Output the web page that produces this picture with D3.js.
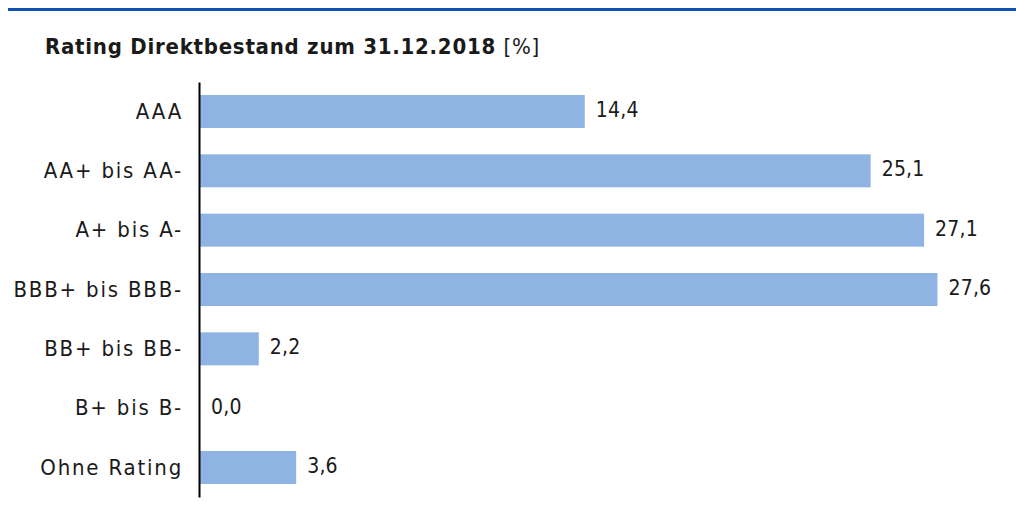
<html>
<head>
<meta charset="utf-8">
<script src="https://d3js.org/d3.v7.min.js"></script>
<style>
  body { margin: 0; background: #fff; }
  text { font-family: "DejaVu Sans Condensed", "Liberation Sans Narrow", sans-serif; fill: #1a1a1a; }
  .cat { font-size: 22px; text-anchor: end; letter-spacing: 1.8px; }
  .val { font-size: 21px; letter-spacing: 0.2px; }
</style>
</head>
<body>
<script>
// Rating Direktbestand zum 31.12.2018 [%]
var ratings = ['AAA', 'AA+ bis AA-', 'A+ bis A-', 'BBB+ bis BBB-', 'BB+ bis BB-', 'B+ bis B-', 'Ohne Rating'];
var shares = [14.4, 25.1, 27.1, 27.6, 2.2, 0.0, 3.6];

var w = 1016, h = 506;
var svg = d3.select('body').append('svg')
    .attr('width', w)
    .attr('height', h);

// blue rule on top
svg.append('rect')
    .attr('x', 8).attr('y', 8)
    .attr('width', w - 8).attr('height', 3)
    .attr('fill', '#0d50b0');

var title = svg.append('text')
    .attr('x', 45)
    .attr('y', 54)
    .style('font-size', '22px')
    .style('letter-spacing', '0.75px');
title.append('tspan').style('font-weight', 'bold').text('Rating Direktbestand zum 31.12.2018 ');
title.append('tspan').text('[%]');

var xscale = d3.scaleLinear()
    .domain([0, 30])
    .range([200, 200 + 30 * 26.72]);

var yscale = d3.scaleBand()
    .domain(ratings)
    .range([82, 497])
    .paddingInner(0.444)
    .paddingOuter(0.219);

var data = ratings.map(function (r, i) { return {rating: r, share: shares[i]}; });

svg.selectAll('rect.bar')
    .data(data)
    .enter()
    .append('rect')
    .attr('class', 'bar')
    .attr('x', xscale(0))
    .attr('y', function (d) { return yscale(d.rating); })
    .attr('width', function (d) { return xscale(d.share) - xscale(0); })
    .attr('height', yscale.bandwidth())
    .attr('fill', '#8fb4e3');

svg.selectAll('text.val')
    .data(data)
    .enter()
    .append('text')
    .attr('class', 'val')
    .attr('x', function (d) { return xscale(d.share) + 11; })
    .attr('y', function (d) { return yscale(d.rating) + yscale.bandwidth() / 2 - 2; })
    .attr('dy', '0.35em')
    .text(function (d) { return d.share.toFixed(1).replace('.', ','); });

var yAxis = d3.axisLeft(yscale).tickSize(0).tickPadding(16);
var g = svg.append('g')
    .attr('transform', 'translate(' + (xscale(0) - 1) + ',0)')
    .call(yAxis);
g.attr('font-family', null).attr('font-size', null);
g.select('.domain').attr('stroke', '#000').attr('stroke-width', 2);
g.selectAll('.tick text')
    .attr('class', 'cat')
    .attr('fill', '#1a1a1a');
</script>
</body>
</html>
